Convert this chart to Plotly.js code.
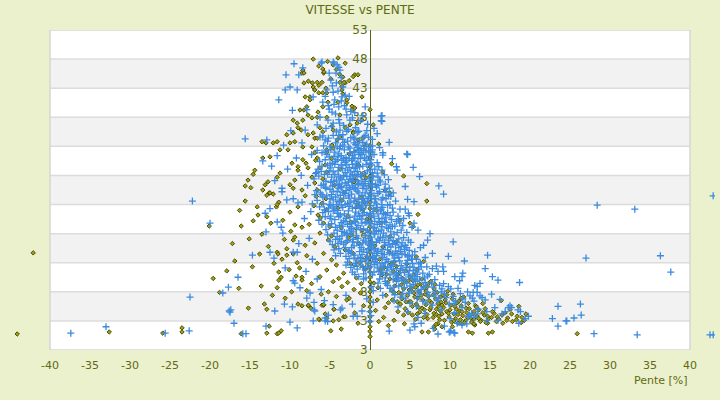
<!DOCTYPE html>
<html><head><meta charset="utf-8">
<script src="https://cdn.plot.ly/plotly-3.0.1.min.js"></script>
<style>html,body{margin:0;padding:0;background:#ebf0cd;}#chart{width:720px;height:400px;}</style>
</head><body><div id="chart"></div>
<script>
// ---- Data: [pente %, vitesse km/h] ----
// Series 1 (olive diamonds)
const oliveUpper = [[-7.1,48.0],[-4.6,47.0],[-4.2,46.2],[-3.8,45.4],[-3.4,44.9],[-1.9,45.3],[-1.5,45.3],[-5.3,47.6],[-6.4,46.8],[-5.8,45.6],[-4.9,44.6],[-7.7,44.2],[-8.5,45.6],[-3.1,47.3],[-4.0,48.2],[-6.0,44.0],[-2.6,44.3],
[-7.2,43.9],[-7.1,43.2],[-5.9,46.3],[-5.75,45.8],[-3.75,44.0],[-3.1,43.9],[-3.5,42.7],[-3.4,42.0],[-7.5,41.5],[-8.1,41.5],[-6.9,42.7],[-6.4,42.2],[-5.4,42.2],[-5.25,40.6],[-2.9,40.5],[-2.25,39.9],[-1.9,39.6],[-1.0,41.5],[-8.25,43.9],[-8.75,39.25],[-8.25,39.25],[-9.6,37.5],[-9.1,37.0],[-7.75,38.4],[-7.25,37.9],[-6.6,38.0],[-6.25,36.2],[-5.9,35.5],[-4.75,36.5],[-4.6,35.8],[-3.1,36.2],[-2.5,36.7],[-2.1,35.5],[0.4,36.7],
[-8.4,46.1],[-8.25,45.6],[-6.6,44.0],[-6.4,43.5],[-6.9,42.7],[-5.5,43.0],[-5.9,42.2],[-3.25,44.0],[-3.5,43.3],[-2.1,45.0],[-7.5,41.0],[-7.9,39.8],[-8.4,37.5],[-5.9,39.8],[-6.5,38.9],[-5.4,38.0],[-4.0,40.6],[-3.75,38.4],[-2.9,41.0],[-2.25,39.3],[-1.6,37.0],[-1.0,37.5],[-2.1,35.3],[-1.5,34.1],[-0.9,34.4],[-7.75,35.0],[-6.9,34.4],[-8.4,32.9],[-4.6,32.7],[-5.4,32.0]];
const oliveMidLeft = [[-13.5,33.8],[-13.0,33.6],[-12.1,33.6],[-11.6,33.8],[-13.4,31.0],[-12.5,31.2],[-11.25,32.4],[-10.25,32.4],[-10.0,33.6],[-9.4,33.8],[-10.4,35.0],[-9.6,35.3],[-9.0,36.2],[-8.6,35.8],[-14.4,28.9],[-14.6,28.2],[-12.75,26.9],[-13.1,26.4],[-13.4,25.5],[-11.25,28.4],[-11.6,27.7],[-9.75,30.1],[-9.0,29.5],[-9.0,28.9],[-8.4,30.7],[-8.0,30.1],[-7.75,29.3],[-9.4,27.2],[-10.0,26.4],[-9.6,25.8],[-12.9,24.6],[-12.6,25.0],[-7.25,32.9],[-6.9,31.9],[-6.6,31.0],[-6.25,29.3],[-5.6,29.8],[-5.4,28.6],[-7.25,27.7],[-6.9,26.7],[-6.6,25.5],[-8.5,25.5],[-8.1,24.5],[-5.4,32.4],[-4.75,33.2],[-7.1,35.3],[-6.6,34.4],[-4.1,34.1],[-3.75,34.6],[-15.6,26.2],[-15.25,27.2]];
const oliveLowLeft = [[-20.1,19.3],[-16.1,19.3],[-14.1,22.6],[-14.0,21.2],[-12.9,20.9],[-13.5,17.9],[-15.1,17.1],[-16.9,13.3],[-14.7,12.3],[-13.6,9.0],[-15.2,5.2],[-12.5,25.0],[-12.1,24.8],[-11.7,22.6],[-11.4,23.4],[-11.6,23.0],[-12.4,19.8],[-10.9,20.3],[-11.6,14.8],[-11.5,14.5],[-11.0,13.6],[-10.4,15.4],[-10.0,21.7],[-9.0,22.6],[-9.4,19.5],[-8.5,19.1],[-9.6,16.9],[-9.4,17.4],[-10.4,14.3],[-9.6,14.5],[-11.4,11.4],[-11.1,10.5],[-11.4,10.0],[-9.25,10.7],[-9.1,13.0],[-8.5,10.5],[-8.5,10.0],[-11.6,8.7],[-9.0,5.9],[-8.5,5.6],[-7.7,5.6],[-7.4,5.2],
[-6.7,24.4],[-6.0,23.2],[-5.4,22.1],[-6.5,21.2],[-5.8,19.8],[-5.0,19.2],[-6.25,18.1],[-5.2,16.9],[-4.4,15.75],[-5.8,14.6],[-4.8,13.5],[-4.2,12.6],[-5.4,11.75],[-6.25,10.6],[-4.6,9.75],[-3.5,8.9],[-5.2,8.0],[-4.2,7.2],[-2.9,6.6],[-5.8,5.7],[-4.5,5.0],[-3.3,3.7],[-5.4,3.45],[-6.3,3.2],
[-2.4,12.8],[-1.7,10.4],[-2.8,9.6],[-1.2,7.8],[-0.6,11.9],[-2.1,14.6],[-1.4,16.3],[-3.1,15.2],[-0.8,5.6],[-1.9,4.4],[-2.6,6.9],
[-7.6,19.6],[-6.9,16.4],[-7.9,14.2],[-6.6,12.9],[-7.3,9.4],[-6.1,7.6],[-7.9,8.2],[-8.8,12.1],[-8.1,16.0],[-9.9,18.4],[-10.7,17.0],[-10.1,11.8],[-12.0,12.9],[-12.7,15.8],[-13.8,14.5],[-12.2,7.4],[-10.6,6.9],[-9.8,8.0],[-14.6,20.2],[-15.6,23.6],[-14.9,25.9],[-16.3,22.0],[-17.2,16.3],[-17.9,11.6],[-16.4,8.6],[-18.8,7.9],[-19.6,10.3],
[-3.3,11.2],[-2.0,8.4],[-1.1,9.4],[-0.4,14.0],[-2.7,17.3],[-1.3,13.0],[-3.9,10.3],[-0.9,22.1],[-2.4,20.0],[-3.5,23.7]];
const oliveCore = [[-6.8,30.6],[-5.9,27.4],[-4.8,30.9],[-3.7,29.1],[-2.6,31.7],[-1.4,29.8],[-0.5,27.6],[-4.4,26.3],[-3.2,25.1],[-2.0,26.9],[-1.1,24.2],[-5.5,24.0],[-4.0,22.4],[-2.8,21.0],[-1.6,22.9],[-0.4,20.5],[-3.6,19.0],[-2.3,17.8],[-1.0,18.6],[-4.8,17.6],[-6.2,20.7],[-7.0,22.8]];
const oliveBottom = [[-44.1,0.75],[-42.1,14.7],[-32.6,1.1],[-25.9,0.9],[-23.5,1.8],[-23.5,1.1],[-16.1,0.8],[-13.2,5.9],[-12.9,5.0],[-12.6,2.1],[-12.9,0.9],[-11.6,0.8],[-11.4,0.9],[-11.1,1.3],[-7.7,5.7],[-6.0,5.7],[-5.8,5.8],[-6.4,3.3],[-5.6,4.2],[-4.6,3.0],[-4.9,1.3],[-3.9,3.2],[-3.6,1.6],[-4.5,5.0],[-3.1,3.7],[-1.5,2.6],
[4.3,2.5],[6.5,1.1],[7.3,1.1],[8.0,2.0],[8.1,1.6],[8.5,2.5],[10.3,2.0],[11.0,2.6],[11.5,2.5],[12.3,1.1],[12.8,0.9],[13.1,2.3],[14.8,0.9],[15.3,1.1],[19.3,3.1],[25.9,0.8],[9.0,2.0],[8.25,2.4],[14.7,2.6]];
const oliveAxisSpeeds = [0.3,1.2,2.0,2.9,3.7,4.6,5.4,6.3,7.1,8.0,8.8,9.7,10.5,11.4,12.2,13.1,13.9,14.8,15.6,16.5,17.4,18.3,19.2,20.2,21.1,22.3,23.4,24.8,26.3,27.9,29.5,31.0,33.1,39.3];
const oliveRight = [[4.2,27.9],[7.1,26.6],[7.1,23.6],[6.0,21.3],[2.7,30.0],[1.9,25.5],[2.5,25.0],[3.75,20.3],[5.0,19.8],[5.4,19.2],[2.5,17.5],[3.3,16.6],[5.8,14.0],[6.7,13.2],[1.1,33.4],[1.6,28.6],[0.8,22.0],[1.4,19.8],[0.6,15.9],
[1.2,13.6],[1.8,12.2],[2.4,14.8],[1.5,10.9],[2.9,11.5],[2.2,9.6],[1.0,8.7],[2.7,8.3],[3.0,13.1],[1.6,15.7],[2.5,10.2],[1.3,11.9],[2.0,7.4],[2.8,6.6],[1.9,5.3],
[3.4,10.8],[3.9,9.2],[4.5,11.6],[3.6,7.9],[4.2,8.5],[4.8,9.9],[3.3,12.4],[4.0,6.8],[4.7,7.4],[3.8,5.9],[4.4,5.1],[4.9,6.3],[3.5,4.6],[4.6,12.8],[3.1,9.0],[4.1,10.3],[4.8,4.4],
[5.2,8.6],[5.6,7.1],[6.1,8.0],[6.6,6.6],[5.4,9.9],[6.3,9.3],[6.9,7.6],[5.8,5.9],[6.5,5.2],[5.1,6.3],[7.0,5.8],[5.5,10.9],[6.2,4.5],[6.8,8.7],[5.9,11.8],[5.3,4.0],[6.0,6.9],[6.7,3.6],[5.7,3.3],
[7.3,7.2],[7.7,6.1],[8.2,6.8],[8.6,5.5],[7.5,4.9],[8.0,4.3],[8.8,4.7],[7.2,8.9],[8.4,7.9],[7.9,3.6],[8.9,6.2],[7.6,9.8],[8.7,3.2],[7.1,4.1],[8.3,5.0],[8.1,9.3],
[9.2,5.3],[9.6,4.6],[10.1,5.7],[10.5,4.2],[9.4,6.6],[10.8,5.0],[9.9,3.7],[10.3,6.8],[9.1,7.4],[10.7,3.4],[9.7,8.1],[10.9,6.1],[9.3,3.1],[10.2,2.8],
[11.2,4.7],[11.6,3.9],[12.1,4.4],[12.6,3.5],[11.4,5.6],[12.4,5.1],[11.9,3.0],[12.9,4.2],[11.1,6.4],[12.7,2.8],[11.7,7.1],[13.0,3.3],
[13.4,3.8],[13.9,3.1],[14.3,4.0],[14.8,3.4],[13.6,4.9],[14.5,2.7],[15.2,3.6],[15.8,2.9],[13.2,5.6],[15.5,4.3],[16.1,3.3],[14.1,6.0],
[16.6,2.6],[17.2,3.5],[17.8,2.9],[18.4,3.8],[16.9,4.4],[18.9,2.7],[17.5,5.0],[19.5,4.2],[18.6,5.5],[16.4,6.5],
[0.7,4.8],[1.1,2.9],[0.9,6.6],[1.7,3.6],[0.5,9.5],[2.3,2.2],[3.0,3.1]];
const oliveBand = [[2.1,11.0],[2.6,12.7],[3.2,10.1],[3.7,11.3],[4.3,9.6],[4.9,8.3],[5.5,7.8],[6.0,9.2],[6.4,7.4],[7.0,8.1],[7.4,6.5],[7.9,7.5],[8.5,6.0],[9.0,5.7],[9.5,6.1],[10.0,4.9],[10.6,5.5],[11.0,4.1],[11.5,4.6],[12.0,5.2],[12.5,4.0],[13.0,4.6],[13.6,3.4],[14.1,4.4],[14.7,3.8],[15.3,4.6],[15.9,3.7],[16.5,4.0],[17.1,3.1],[17.7,4.2],[18.3,3.2],[19.0,3.6],[3.9,7.6],[4.5,6.3],[5.3,5.5],[6.1,5.3],[6.8,4.9],[7.6,5.3],[8.3,4.1],[9.0,4.2],[9.8,4.3],[10.5,3.0],[11.3,3.2],[12.2,3.6],[13.0,2.5],[13.8,2.9],[5.0,10.5],[5.7,8.8],[6.5,10.2],[7.3,9.4],[8.0,8.5],[8.8,7.1],[9.6,7.5],[10.4,7.6],[11.4,6.9],[12.3,6.0],[13.3,5.4],[14.4,5.1],[3.0,7.9],[2.3,6.1],[3.4,6.3],[4.2,4.0],[5.9,4.2],[7.2,3.4],[8.6,3.8],[11.8,2.7]];

// Series 2 (blue crosses)
const blueUpper = [[-9.5,47.2],[-8.4,46.5],[-10.5,45.3],[-8.9,45.3],[-6.1,47.3],[-4.6,47.5],[-10.6,42.7],[-10.0,43.2],[-9.1,42.7],[-9.7,39.2],[-15.6,34.3],[-12.9,34.1],
[-6.0,47.5],[-4.5,47.3],[-4.1,47.0],[-3.9,46.6],[-5.1,45.6],[-4.25,45.6],[-3.75,46.1],[-5.4,42.7],[-4.6,42.3],[-3.4,43.2],[-7.1,41.5],[-5.9,40.6],[-4.4,41.0],[-3.5,41.5],[-5.1,39.4],[-4.75,38.9],[-3.9,39.8],[-6.25,38.0],[-5.25,37.5],[-4.6,37.0],[-2.9,38.4],[-2.5,37.5],[-0.75,34.6],[-3.75,35.8],[-3.4,35.0],[1.4,38.2],[1.4,37.4],[2.4,33.7],[4.6,31.7],[-7.9,39.3],[-6.6,36.7],[-8.1,35.8],[-8.5,33.6],[-6.25,34.6],[-5.6,34.1],[-5.0,32.9],[-4.1,32.9],[-3.4,33.2],[-2.5,32.7],[-1.9,32.0],[-1.25,31.9],[0.0,32.9],[0.25,32.0],
[-4.9,44.4],[-4.2,43.9],[-3.6,44.8],[-4.5,40.2],[-3.2,40.0],[-5.6,41.6],[-2.4,39.0],[-1.8,36.2],[-1.2,37.4],[-0.6,39.8],[0.5,36.1],[0.9,35.2],[-2.1,34.6],[-1.4,35.6],[-0.3,36.8],[-11.4,41.0],[-9.9,35.7],[-10.8,33.2],[-11.6,31.4],[-9.2,31.0],[-7.3,31.6],[-10.3,29.1],[-8.6,28.0],[-11.9,27.1],[-12.3,29.6],[-13.4,30.5],[-9.6,24.0],[-11.0,25.8],[-12.5,22.3]];
const blueLeft = [[-22.2,23.6],[-20.0,19.8],[-13.1,21.5],[-13.0,18.3],[-14.7,14.3],[-16.5,10.5],[-17.7,8.8],[-18.4,7.8],[-22.5,7.1],[-17.6,4.7],[-17.5,4.5],[-17.4,4.9],[-17.0,2.6],[-37.4,0.9],[-33.0,2.0],[-25.6,0.9],[-22.6,1.3],[-15.9,0.8],[-15.5,0.8],[-13.0,2.1],[-11.9,4.7],[-10.7,5.9],[-9.7,5.4],[-10.0,2.8],[-9.1,1.8],[-7.0,4.9],[-7.1,3.0],[-5.2,4.0],[-5.6,3.5],[-5.6,3.0],[-5.3,2.9],[-3.5,5.2],[-3.7,4.9],[-2.1,3.8],[-1.6,3.8],
[-11.6,20.0],[-11.1,19.1],[-12.5,14.8],[-12.0,13.8],[-10.9,18.1],[-10.6,12.1],[-9.6,14.8],[-9.1,14.8],[-9.6,9.9],[-9.4,9.5],[-8.75,8.7],[-7.9,6.9],[-7.5,7.8],[-7.0,6.2],[-6.9,4.7],[-10.4,23.8],[-11.0,25.2],[-9.0,23.3],[-8.5,23.4],
[-8.2,20.6],[-7.6,17.2],[-8.9,16.3],[-7.2,13.6],[-8.0,11.5],[-6.6,10.2],[-6.1,8.4],[-5.7,6.5],[-7.4,21.8],[-6.9,24.7],[-7.8,26.3],[-6.7,28.5],[-4.6,5.8],[-3.0,7.4],[-2.2,5.9],[-1.0,4.7],[-0.4,6.8]];
const blueCore = [[-6.3,30.4],[-5.8,33.1],[-5.1,31.2],[-4.7,30.1],[-4.3,33.6],[-3.9,31.7],[-3.5,30.6],[-3.2,32.4],[-2.8,33.9],[-2.6,30.9],[-2.2,31.4],[-1.8,33.3],[-1.5,30.3],[-1.1,32.6],[-0.7,31.0],[-0.4,33.4],[0.1,30.7],[0.5,31.6],[0.9,30.2],[-5.5,32.2],[-4.0,34.3],[-3.0,31.1],[-2.0,32.1],[-1.3,34.0],[-0.2,32.2],[1.2,32.8],[-6.0,31.9],[-3.7,33.0],
[-7.0,27.4],[-6.5,29.1],[-6.1,26.3],[-5.7,28.2],[-5.3,29.7],[-4.9,26.8],[-4.6,28.6],[-4.2,27.2],[-3.9,29.4],[-3.6,26.1],[-3.3,28.0],[-3.0,29.8],[-2.7,26.9],[-2.4,28.6],[-2.1,27.5],[-1.8,29.3],[-1.5,26.4],[-1.2,28.1],[-0.9,29.6],[-0.6,27.0],[-0.3,28.8],[0.2,26.6],[0.6,29.1],[1.0,27.7],[1.5,28.9],[1.9,26.5],[-5.0,30.0],[-3.8,26.5],[-2.9,27.8],[-1.6,28.7],[-0.8,26.2],[0.4,27.9],[-4.4,29.9],[-2.2,29.9],[-6.8,28.3],
[-7.2,23.1],[-6.7,25.4],[-6.3,22.6],[-5.9,24.3],[-5.5,25.8],[-5.1,23.0],[-4.8,24.7],[-4.4,22.2],[-4.1,25.2],[-3.8,23.6],[-3.4,22.5],[-3.1,24.9],[-2.8,23.2],[-2.5,25.6],[-2.2,22.4],[-1.9,24.1],[-1.6,25.3],[-1.3,22.9],[-1.0,24.6],[-0.7,23.4],[-0.4,25.7],[0.1,22.8],[0.5,24.5],[0.8,23.1],[1.2,25.2],[1.6,22.5],[2.0,24.0],[2.5,23.0],[2.9,25.0],[-3.6,25.9],[-2.0,23.6],[-0.9,22.2],[0.3,26.0],[-4.6,23.8],[-5.7,22.1],[1.4,23.8],[-1.4,23.9],[-2.7,24.5],
[-6.4,20.3],[-5.9,21.6],[-5.5,18.7],[-5.0,20.6],[-4.6,21.9],[-4.3,19.1],[-3.9,20.9],[-3.5,18.4],[-3.2,21.4],[-2.8,19.6],[-2.5,20.8],[-2.1,18.3],[-1.8,21.7],[-1.5,19.4],[-1.1,20.5],[-0.8,18.8],[-0.4,21.2],[0.1,19.7],[0.4,21.8],[0.8,18.5],[1.1,20.6],[1.5,19.2],[1.9,21.3],[2.3,18.9],[2.7,20.4],[3.1,19.3],[3.5,21.0],[3.9,18.6],[-4.0,22.0],[-2.9,18.0],[-1.3,21.0],[-0.1,18.2],[1.3,21.9],[2.0,19.9],[-5.2,19.5],[0.6,20.1],[-3.6,19.9],[-2.3,19.7],[-0.6,19.9],[1.7,18.1],
[-5.0,16.7],[-4.5,15.2],[-4.1,17.5],[-3.7,14.6],[-3.3,16.2],[-2.9,17.8],[-2.6,15.1],[-2.2,16.6],[-1.9,14.3],[-1.5,17.2],[-1.1,15.6],[-0.8,16.9],[-0.4,14.8],[0.1,17.4],[0.4,15.9],[0.8,14.2],[1.2,16.8],[1.6,15.3],[2.0,17.6],[2.4,14.7],[2.8,16.3],[3.2,15.0],[3.6,17.1],[4.0,14.5],[4.4,16.0],[4.9,15.1],[5.3,14.3],[-3.0,14.1],[-1.3,16.1],[0.6,17.9],[1.9,16.0],[3.0,17.9],[3.9,15.8],[-0.2,16.2],[2.6,15.7],[1.0,15.0],[-2.4,17.9],[-4.3,14.2],
[-3.0,12.6],[-2.6,13.7],[-2.2,11.4],[-1.8,12.9],[-1.4,10.6],[-1.0,13.3],[-0.6,11.8],[-0.2,12.9],[0.3,10.9],[0.7,13.6],[1.1,11.5],[1.5,12.8],[1.9,10.4],[2.3,13.2],[2.7,11.9],[3.1,13.8],[3.5,10.8],[3.9,12.5],[4.3,11.3],[4.7,13.4],[5.1,10.6],[5.5,12.2],[5.9,11.0],[6.3,13.0],[6.8,10.4],[0.9,12.1],[2.1,11.6],[3.3,12.0],[4.5,10.1],[-0.8,10.2],[1.6,13.9],[5.2,13.6],[2.9,10.1],[6.1,11.9],[0.0,11.4],
[0.4,8.2],[1.0,9.5],[1.6,7.4],[2.2,9.1],[2.8,8.0],[3.3,9.8],[3.8,7.1],[4.3,8.7],[4.9,7.8],[5.4,9.3],[5.9,6.9],[6.4,8.4],[6.9,9.6],[7.4,7.3],[7.9,8.8],[8.4,6.5],[8.9,8.0],[9.5,7.0],[10.1,8.5],[10.7,6.4],[11.3,7.7],[11.9,6.2],[12.5,7.3],[13.0,6.4],[3.0,6.5],[5.0,6.0],[7.0,6.1],[9.2,9.4],[6.2,10.0],[8.1,10.1],
[3.5,5.4],[4.7,4.6],[5.8,5.5],[6.9,4.3],[7.8,5.7],[8.9,4.9],[9.9,5.9],[10.6,4.4],[11.5,5.3],[12.4,4.0],[13.5,5.0],[14.6,4.6],[15.6,5.3],[16.5,4.2],[17.5,5.6],[13.0,3.6],[10.0,3.4],[6.0,3.6],[18.8,4.6],
[0.2,29.8],[0.3,27.2],[0.2,24.0],[0.4,19.0],[0.2,16.6],[0.3,13.9],[0.2,8.9],[0.4,6.2],[0.0,4.6],[0.0,2.9],[0.1,3.9]];
const blueCoreDense = [[-5.9,34.8],[-5.3,33.9],[-4.9,32.4],[-4.5,31.3],[-4.1,30.7],[-3.8,32.6],[-3.4,34.2],[-3.1,30.2],[-2.7,32.9],[-2.4,34.5],[-2.3,30.6],[-1.9,31.0],[-1.6,32.8],[-1.2,30.9],[-0.9,33.7],[-0.5,32.0],[-0.1,31.3],[0.3,34.2],[-4.6,34.9],[-3.6,31.4],[-2.9,35.6],[-2.0,33.6],[-1.4,31.6],[-0.6,34.9],[-5.6,30.7],[-6.6,32.3],
[-4.8,36.4],[-4.2,35.5],[-3.9,37.6],[-3.3,36.6],[-3.0,39.4],[-2.7,35.9],[-2.2,37.9],[-1.9,38.8],[-1.6,35.4],[-4.3,38.6],[-3.6,40.8],[-4.0,42.5],[-3.1,41.8],[-4.7,43.4],[-5.2,40.0],[-5.5,36.1],[-2.6,41.6],[-3.8,37.0],[-0.9,38.3],[-0.4,35.7],
[-6.4,27.9],[-6.0,29.6],[-5.5,27.0],[-5.1,28.8],[-4.8,27.7],[-4.4,28.2],[-4.0,26.4],[-3.7,27.6],[-3.4,29.2],[-3.1,26.7],[-2.8,28.9],[-2.5,27.3],[-2.2,26.2],[-1.9,28.0],[-1.6,27.1],[-1.3,29.5],[-1.0,26.9],[-0.7,28.3],[-0.4,29.9],[-0.1,27.4],[0.3,28.5],[0.7,26.4],[1.1,29.5],[1.3,26.9],[1.8,28.1],[2.3,27.3],[-5.8,26.5],[-2.0,29.2],[-0.2,26.3],[0.9,28.4],
[-6.6,23.7],[-6.2,25.0],[-5.8,23.1],[-5.4,24.5],[-5.0,25.6],[-4.6,22.6],[-4.3,24.3],[-3.9,25.8],[-3.6,22.9],[-3.3,24.1],[-3.0,25.4],[-2.6,22.7],[-2.3,24.8],[-2.0,25.9],[-1.7,23.2],[-1.4,25.0],[-1.1,22.6],[-0.8,24.0],[-0.5,22.9],[-0.2,24.3],[0.2,25.4],[0.6,23.4],[1.0,24.9],[1.4,22.2],[1.8,25.6],[2.2,22.9],[2.6,24.4],[3.2,23.6],[-4.2,23.0],[-2.4,23.4],[-0.6,25.0],[0.9,22.5],[2.0,25.2],[-5.2,22.4],
[-6.0,19.6],[-5.6,20.9],[-5.2,21.8],[-4.8,19.7],[-4.4,20.4],[-4.1,18.6],[-3.7,21.2],[-3.4,19.3],[-3.0,20.6],[-2.7,21.9],[-2.3,18.9],[-2.0,20.2],[-1.7,19.0],[-1.4,21.4],[-1.0,19.8],[-0.7,21.6],[-0.3,18.6],[0.2,20.8],[0.6,19.0],[1.0,21.4],[1.4,18.6],[1.8,20.1],[2.2,21.6],[2.5,19.5],[2.9,21.7],[3.3,20.1],[3.7,19.8],[4.2,20.6],[-1.9,21.0],[0.0,21.5],[1.5,20.6],[-3.2,18.2],[2.6,18.3],
[-4.7,16.1],[-4.3,17.0],[-3.9,15.4],[-3.5,17.6],[-3.1,15.6],[-2.8,16.8],[-2.4,14.6],[-2.0,15.9],[-1.7,17.6],[-1.3,14.9],[-0.9,16.4],[-0.6,17.7],[-0.2,15.4],[0.3,16.6],[0.7,15.4],[1.0,17.1],[1.4,14.6],[1.8,16.5],[2.2,15.2],[2.6,17.3],[3.0,14.3],[3.4,16.5],[3.8,14.9],[4.2,17.3],[4.6,15.6],[5.1,16.5],[5.6,14.9],[-1.0,14.4],[0.5,14.6],[2.3,16.9],[3.6,15.6],[4.7,14.2],[-3.6,16.6],
[-2.8,13.1],[-2.4,12.2],[-2.0,13.8],[-1.6,11.9],[-1.2,12.6],[-0.8,11.1],[-0.4,13.6],[0.1,12.4],[0.5,11.4],[0.9,13.0],[1.3,11.0],[1.7,12.3],[2.1,13.6],[2.5,10.9],[2.9,12.7],[3.3,11.3],[3.7,13.3],[4.1,11.9],[4.5,12.9],[4.9,11.6],[5.3,12.9],[5.7,11.4],[6.1,12.8],[6.6,11.2],[7.1,12.3],[1.2,10.2],[3.9,10.4],[5.6,10.2],[7.4,11.0],[0.3,13.8],
[1.3,8.6],[1.9,9.8],[2.5,8.6],[3.1,7.5],[3.6,9.0],[4.1,7.7],[4.6,9.5],[5.2,8.2],[5.7,9.8],[6.2,7.6],[6.7,8.9],[7.2,7.9],[7.7,9.5],[8.2,8.0],[8.7,9.1],[9.3,7.7],[9.8,8.9],[10.4,7.2],[11.0,8.6],[11.6,6.8],[12.2,8.0],[12.8,6.9],[13.4,7.9],[14.0,7.0],[4.4,6.9],[6.6,6.4],[8.6,6.9],[10.5,6.0]];
const blueCoreFill = [[-5.2,34.4],[-4.4,32.0],[-3.3,30.9],[-2.5,31.9],[-1.7,30.0],[-0.8,32.3],[-0.2,34.6],[-4.9,29.3],[-3.5,27.3],[-2.6,29.4],[-1.1,27.8],[0.0,29.0],[-6.1,28.7],[-5.4,31.6],[-3.9,34.9],[-1.9,34.3],[-1.5,33.2],[-4.0,28.8],[-2.2,28.2],[-0.5,30.6],
[-5.6,26.0],[-4.6,25.3],[-3.7,24.6],[-2.9,26.3],[-1.8,25.7],[-0.9,25.8],[0.0,24.9],[0.8,26.0],[1.6,24.2],[2.4,25.8],[-4.9,22.9],[-3.1,23.0],[-1.2,22.3],[0.4,22.3],[2.8,22.4],[-6.0,24.7],[-2.5,27.9],[-1.4,26.6],[1.2,27.2],[-4.5,27.0],
[-5.3,17.8],[-4.5,18.1],[-3.8,19.4],[-2.6,18.6],[-1.6,20.5],[-0.9,21.1],[-0.1,19.9],[0.9,19.6],[1.7,21.5],[2.5,21.1],[3.4,18.2],[4.1,19.4],[4.6,18.2],[-2.1,17.0],[-0.5,16.6],[1.3,17.4],[2.9,16.8],[4.3,15.3],[-4.0,16.3],[-3.0,20.1],[0.5,18.1],[2.1,19.0],
[-2.7,14.9],[-1.5,13.7],[-0.3,14.1],[0.9,14.9],[1.9,13.0],[2.8,14.5],[3.6,13.9],[4.4,14.4],[5.0,12.3],[5.8,13.6],[6.4,12.3],[-1.9,11.0],[-0.5,10.4],[0.6,12.7],[1.6,11.3],[2.6,12.4],[3.4,10.2],[4.8,10.9],[5.9,10.6],[7.2,10.7],[7.8,12.0],[6.9,13.9],[-0.9,12.2],[3.0,11.1]];
const blueCoreExtra = [[-4.3,30.4],[-3.6,29.8],[-2.9,30.5],[-2.1,30.9],[-1.4,32.4],[-0.7,33.0],[0.0,30.1],[-3.2,33.7],[-4.0,31.2],[-1.0,31.6],
[-4.7,26.2],[-3.9,27.9],[-3.1,28.5],[-2.3,27.0],[-1.5,28.2],[-0.6,26.6],[0.2,27.9],[1.0,26.3],[-5.3,28.2],[-2.6,25.9],
[-5.0,24.0],[-4.0,23.5],[-3.4,25.1],[-2.6,24.1],[-1.8,22.5],[-1.0,23.4],[-0.3,23.6],[0.7,24.0],[1.5,23.0],[2.3,24.6],
[-4.9,21.0],[-4.1,21.5],[-3.3,20.2],[-2.5,19.2],[-1.8,20.0],[-1.2,18.7],[-0.4,20.0],[0.5,21.0],[1.2,19.9],[2.0,20.7],[2.8,19.2],[3.6,20.4],
[-3.8,17.1],[-3.0,16.5],[-2.3,15.6],[-1.6,16.5],[-0.8,15.2],[0.0,16.0],[0.8,16.5],[1.6,17.3],[2.4,16.2],[3.2,16.1],[4.0,16.4],[4.8,16.9],[1.1,18.4],[-0.2,17.2],
[-2.0,12.5],[-1.2,13.9],[-0.3,12.3],[0.5,13.2],[1.3,12.4],[2.2,12.2],[3.0,13.3],[3.8,11.7],[4.6,12.2],[5.4,11.7],[1.8,14.4],[3.4,14.6],[4.9,14.0],[0.2,15.2],
[2.0,9.4],[3.0,8.8],[4.0,9.9],[5.0,9.0],[6.0,8.3],[7.0,9.0],[8.0,7.3],[9.0,8.5],[3.5,10.4],[5.3,10.6]];
const blueRight = [[1.5,38.3],[1.5,37.3],[0.3,33.1],[0.3,32.4],[1.6,31.9],[1.6,31.5],[4.7,31.6],[2.8,30.9],[5.4,29.4],[3.3,29.5],[3.4,28.9],[4.4,26.1],[9.2,24.8],[4.7,23.9],[5.5,23.5],[3.75,22.2],[4.4,22.2],[4.8,21.5],[4.9,21.1],[5.5,19.8],[5.25,19.1],[6.0,18.6],[7.5,18.0],[7.2,16.9],[6.7,16.0],[6.3,15.6],[7.8,14.6],[9.8,14.1],[14.7,14.3],[14.4,12.0],[8.3,12.4],[9.1,12.3],[8.5,11.5],[9.2,11.5],[10.6,10.6],[11.2,9.9],[11.6,11.2],[11.5,10.6],[13.1,9.1],[13.75,9.45],[13.4,8.9],[15.3,10.6],[16.0,10.0],[18.7,9.6],[12.9,7.9],[13.75,7.3],[16.25,6.7],[14.4,6.6],[15.2,7.6],[23.5,5.5],[17.7,5.3],[17.3,5.3],[16.9,4.6],[18.5,4.9],[19.8,3.8],[19.4,3.4],[22.8,3.4],[24.5,3.0],[23.5,2.1],[16.0,3.1],[14.6,3.1],[12.7,4.3],[12.3,3.7],[13.4,4.2],[10.9,2.6],[11.5,2.3],[2.4,1.25],[5.0,1.4],[5.6,2.0],[8.5,0.75],[7.9,1.7],[10.0,1.1],[10.5,1.0],
[5.5,2.5],[6.4,2.6],[9.3,2.1],[9.9,1.1],[10.1,1.3],[10.6,0.9],[12.1,2.5],[18.6,2.6],[24.6,3.0],[25.5,3.5],[26.3,5.9],[26.4,4.0],[28.0,0.8],[33.4,0.6],[42.5,0.6],[42.9,0.6],[42.9,24.5],[28.4,22.9],[33.1,22.2],[27.0,13.8],[36.3,14.2],[37.6,11.4],[8.6,26.2],[6.2,27.8],[10.4,16.6],[11.8,13.3]];

const xTicks = [-40,-35,-30,-25,-20,-15,-10,-5,0,5,10,15,20,25,30,35,40];
const yTicks = [53,48,43,38,33,28,23,18,13,8,3,-2];
const yTickText = ['53','48','43','38','33','28','23','18','13','8','3','3'];

// ---- Build traces ----
const olivePts = [].concat(oliveUpper, oliveMidLeft, oliveLowLeft, oliveCore, oliveBottom, oliveRight, oliveBand,
  oliveAxisSpeeds.map(v => [0, v]));
const bluePts = [].concat(blueUpper, blueLeft, blueCore, blueCoreDense, blueCoreFill, blueCoreExtra, blueRight);

const olive = '#5f6a12';
const traces = [
  {type:'scatter', mode:'markers', name:'Série 1',
   x: olivePts.map(p=>p[0]), y: olivePts.map(p=>p[1]),
   marker:{symbol:'diamond', size:3.4, color:'#a09e1e', line:{color:'#4c5000', width:1}}},
  {type:'scatter', mode:'markers', name:'Série 2',
   x: bluePts.map(p=>p[0]), y: bluePts.map(p=>p[1]),
   marker:{symbol:'cross-thin', size:5, color:'#3a8ae0', line:{color:'#3a8ae0', width:1.3}}}
];

// The axis range reaches into the side margins (8 px per % of slope on both sides of the framed area),
// so that the few points outside the -40..40 frame are still drawn, as in the reference.
const xFrame = [xTicks[0], xTicks[xTicks.length-1]];
const shapes = [];
shapes.push({type:'rect', xref:'x', yref:'y', x0:xFrame[0], x1:xFrame[1], y0:yTicks[yTicks.length-1], y1:yTicks[0],
  fillcolor:'#ffffff', line:{width:0}, layer:'below'});
for (let i = 0; i < yTicks.length - 1; i++) {
  if (i % 2 === 1) {
    shapes.push({type:'rect', xref:'x', yref:'y', x0:xFrame[0], x1:xFrame[1], y0:yTicks[i+1], y1:yTicks[i],
      fillcolor:'#f2f2f2', line:{width:0}, layer:'below'});
  }
}
for (let i = 1; i < yTicks.length - 1; i++) {
  shapes.push({type:'line', xref:'x', yref:'y', x0:xFrame[0], x1:xFrame[1], y0:yTicks[i], y1:yTicks[i],
    line:{color:'#dcdcdc', width:1.5}, layer:'below'});
}
shapes.push({type:'rect', xref:'x', yref:'y', x0:xFrame[0], x1:xFrame[1], y0:yTicks[yTicks.length-1], y1:yTicks[0],
  line:{color:'#d6d6d6', width:1.5}, fillcolor:'rgba(0,0,0,0)', layer:'below'});

const layout = {
  width:720, height:400,
  margin:{l:10, r:5, t:30, b:50},
  paper_bgcolor:'#ebf0cd', plot_bgcolor:'rgba(0,0,0,0)',
  showlegend:false,
  font:{family:'DejaVu Sans, sans-serif', color:olive, size:11},
  title:{text:'VITESSE vs PENTE', x:0.5, xanchor:'center', y:0.975, yanchor:'middle',
         font:{family:'DejaVu Sans, sans-serif', size:12, color:olive}},
  xaxis:{range:[-45,43.125], tickvals:xTicks, ticktext:xTicks.map(String), showgrid:false, zeroline:false,
         showline:false, ticks:'outside', ticklen:5, tickcolor:'rgba(0,0,0,0)',
         tickfont:{size:11, color:olive}, fixedrange:true},
  yaxis:{range:[-2,53], tickvals:yTicks, ticktext:yTickText, anchor:'free', position:360/705, side:'left',
         showgrid:false, zeroline:false,
         showline:true, linecolor:'#5a640f', linewidth:1, ticks:'', layer:'below traces',
         tickfont:{size:12, color:olive}, fixedrange:true},
  shapes: shapes,
  annotations:[{text:'Pente [%]', xref:'x', yref:'paper', x:xFrame[1], y:-0.095, xanchor:'right', yanchor:'middle',
                showarrow:false, font:{size:11, color:olive}}]
};

Plotly.newPlot('chart', traces, layout, {displayModeBar:false, staticPlot:true});
</script></body></html>
